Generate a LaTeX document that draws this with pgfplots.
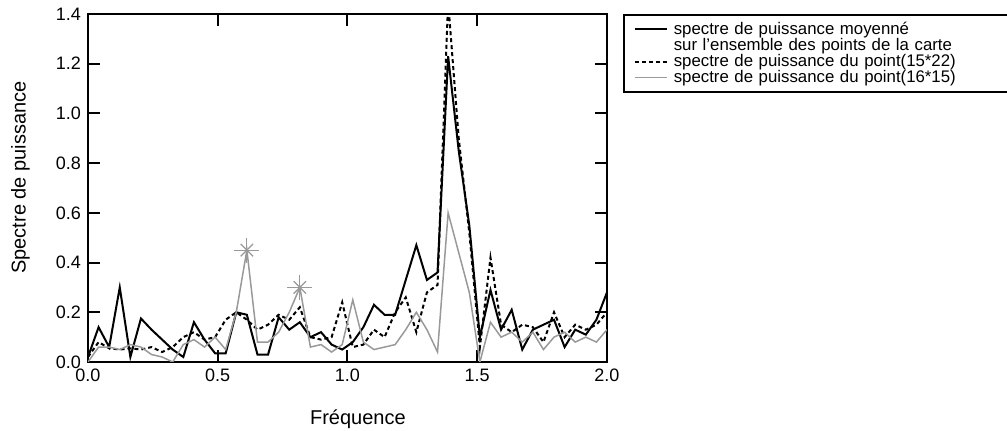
\documentclass[border=0pt]{standalone}
\usepackage{fontspec}
\setmainfont{Liberation Sans}
\usepackage{pgfplots}
\usepackage{pgfplotstable}
\pgfplotsset{compat=1.18}

\definecolor{grisligne}{gray}{0.6}

% x: frequence, moy: spectre moyen, p1522: point (15*22), p1615: point (16*15)
\pgfplotstableread{
x      moy   p1522  p1615
0.0000 0.02  0.02   0.00
0.0408 0.14  0.08   0.06
0.0816 0.06  0.055  0.06
0.1224 0.30  0.05   0.05
0.1633 0.02  0.055  0.07
0.2041 0.175 0.05   0.06
0.2449 0.13  0.06   0.03
0.2857 0.09  0.04   0.02
0.3265 0.05  0.06   0.00
0.3673 0.02  0.10   0.07
0.4082 0.16  0.12   0.09
0.4490 0.09  0.09   0.06
0.4898 0.035 0.10   0.10
0.5306 0.035 0.17   0.05
0.5714 0.20  0.20   0.20
0.6122 0.19  0.17   0.45
0.6531 0.03  0.13   0.08
0.6939 0.03  0.15   0.08
0.7347 0.18  0.19   0.12
0.7755 0.13  0.17   0.20
0.8163 0.16  0.22   0.30
0.8571 0.10  0.10   0.06
0.8980 0.12  0.09   0.07
0.9388 0.07  0.10   0.04
0.9796 0.05  0.24   0.07
1.0204 0.08  0.06   0.25
1.0612 0.14  0.07   0.08
1.1020 0.23  0.13   0.05
1.1429 0.19  0.10   0.06
1.1837 0.19  0.20   0.07
1.2245 0.33  0.26   0.13
1.2653 0.47  0.12   0.20
1.3061 0.33  0.28   0.13
1.3469 0.36  0.31   0.04
1.3878 1.23  1.45   0.60
1.4286 0.85  0.90   0.44
1.4694 0.55  0.52   0.28
1.5102 0.10  0.06   0.00
1.5510 0.29  0.42   0.16
1.5918 0.13  0.15   0.10
1.6327 0.21  0.12   0.12
1.6735 0.05  0.15   0.08
1.7143 0.13  0.14   0.12
1.7551 0.15  0.08   0.05
1.7959 0.17  0.20   0.10
1.8367 0.06  0.10   0.12
1.8776 0.13  0.15   0.08
1.9184 0.11  0.13   0.10
1.9592 0.17  0.15   0.08
2.0000 0.28  0.20   0.13
}\spectre

\pgfplotsset{
  legend image code/.code={\draw[#1] (0pt,0pt) -- (16pt,0pt);},
}

\begin{document}
\begin{tikzpicture}
\begin{axis}[
    at={(0,0)}, anchor=south west,
    scale only axis,
    width=259.5pt, height=174pt,
    xmin=0, xmax=2, ymin=0, ymax=1.4,
    xtick={0,0.5,...,2},
    ytick={0,0.2,...,1.4},
    tick align=inside,
    xtick pos=both, ytick pos=both,
    xticklabel pos=lower, yticklabel pos=left,
    major tick length=6pt,
    every tick/.style={black, line width=1pt},
    axis line style={line width=1pt},
    /pgf/number format/.cd, fixed, fixed zerofill, precision=1, assume math mode=true,
    /pgfplots/.cd,
    ticklabel style={font=\fontsize{9}{10}\selectfont},
    xlabel={Fréquence},
    ylabel={Spectre de puissance},
    label style={font=\fontsize{10}{12}\selectfont},
    xlabel style={at={(axis description cs:0.52,-0.165)}, anchor=center},
    ylabel style={at={(axis description cs:-0.13,0.53)}, anchor=center},
    legend cell align=left,
    legend style={
        at={(axis description cs:1.0308,1)}, anchor=north west,
        draw=black, line width=0.8pt,
        font=\fontsize{8.4}{8}\selectfont,
        inner xsep=5pt, inner ysep=2.5pt,
        row sep=-1.6pt,
        nodes={inner ysep=1pt, inner xsep=3pt, text width=170pt, align=left},
    },
]
\addplot[black, line width=1pt] table[x=x, y=moy] {\spectre};
\addlegendentry{spectre de puissance moyenné}
\addlegendimage{empty legend}
\addlegendentry{sur l'ensemble des points de la carte}
\addplot[black, line width=1pt, dash pattern=on 2pt off 1.5pt] table[x=x, y=p1522] {\spectre};
\addlegendentry{spectre de puissance du point(15*22)}
\addplot[grisligne, line width=0.75pt] table[x=x, y=p1615] {\spectre};
\addlegendentry{spectre de puissance du point(16*15)}
% etoiles sur les pics du point (16*15)
\addplot[grisligne, only marks, mark=+, mark size=6.2pt, mark options={line width=0.6pt}, forget plot]
    coordinates {(0.6122,0.45) (0.8163,0.30)};
\addplot[grisligne, only marks, mark=x, mark size=4.4pt, mark options={line width=0.6pt}, forget plot]
    coordinates {(0.6122,0.45) (0.8163,0.30)};
\end{axis}
\pgfresetboundingbox
\path[use as bounding box] (-44pt,-34.5pt) rectangle (459.5pt,181pt);
\end{tikzpicture}
\end{document}
